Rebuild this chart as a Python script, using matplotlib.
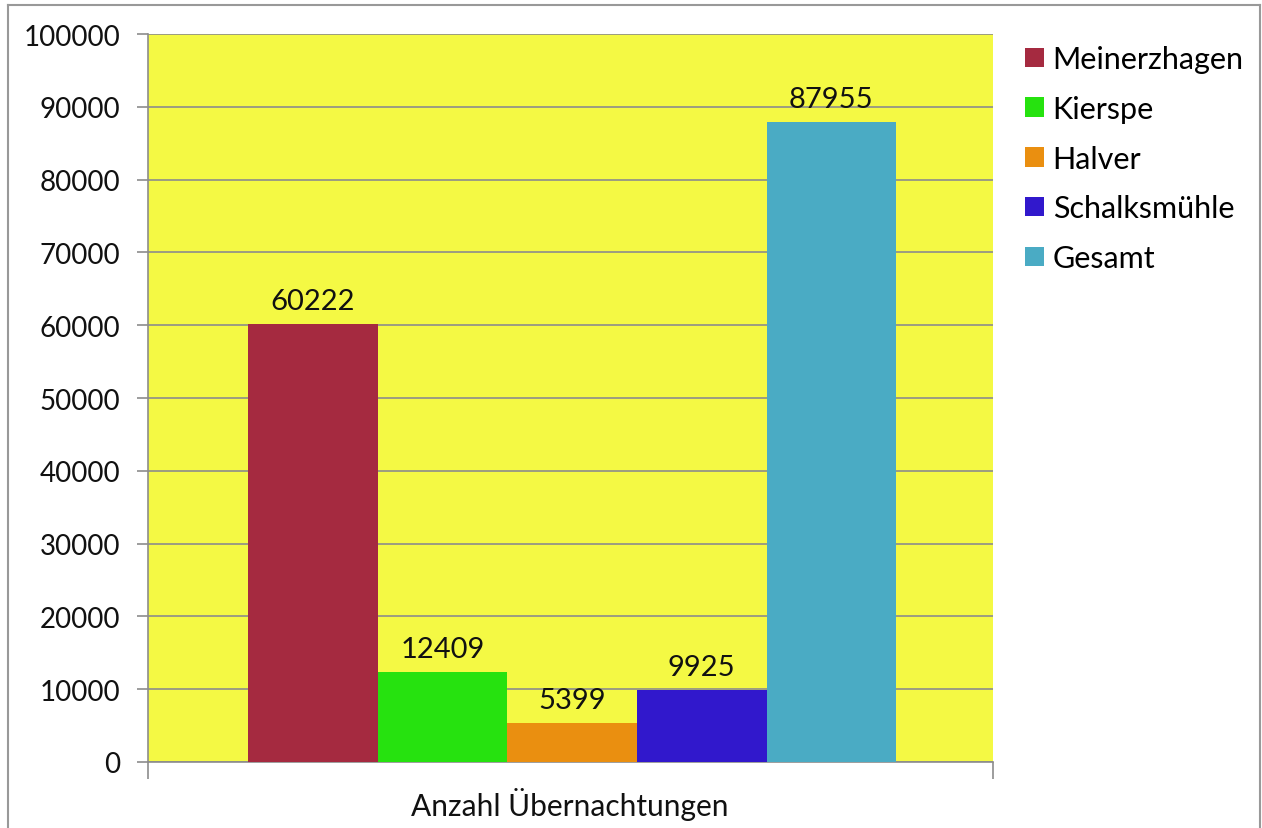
import matplotlib
matplotlib.use("Agg")
import matplotlib.pyplot as plt
from matplotlib.patches import Patch
from matplotlib.lines import Line2D

categories = ["Meinerzhagen", "Kierspe", "Halver", "Schalksmühle", "Gesamt"]
values = [60222, 12409, 5399, 9925, 87955]
colors = ["#A52A40", "#26E20F", "#EA8F10", "#3118CC", "#4AABC4"]
xlabel = "Anzahl Übernachtungen"
yticks = list(range(0, 100001, 10000))

plt.rcParams['font.family'] = ['Lato', 'DejaVu Sans']

W, H = 1262, 829
fig = plt.figure(figsize=(W/100, H/100), dpi=100)
ax = fig.add_axes([148/W, 1-763/H, (993-148)/W, (763-35)/H])
ax.set_facecolor("#F4F944")

bw = 129.6/845
n = len(values)
for i, (c, v, col) in enumerate(zip(categories, values, colors)):
    x = (i - (n-1)/2) * bw + 0.002
    ax.bar(x, v, width=bw, color=col, label=c, zorder=3, linewidth=0)
    ax.text(x, v + 1300, str(v), ha="center", va="bottom", fontsize=21, color="#111111", zorder=4)

ax.set_xlim(-0.5, 0.5)
ax.set_ylim(0, 100000)
ax.set_yticks(yticks)
ax.set_yticklabels([str(t) for t in yticks], fontsize=20, color="#111111")
ax.grid(axis="y", color="#8C8C8C", linewidth=1.2, zorder=1)
ax.tick_params(axis="y", length=8, width=1.2, color="#8C8C8C", pad=12)
ax.set_xticks([-0.5, 0.5])
ax.set_xticklabels(["", ""])
ax.tick_params(axis="x", length=12, width=1.2, color="#8C8C8C")
for s in ["top", "right"]:
    ax.spines[s].set_visible(False)
for s in ["left", "bottom"]:
    ax.spines[s].set_color("#8C8C8C")
    ax.spines[s].set_linewidth(1.2)
ax.set_axisbelow(True)

fig.text(570/W, 1-805/H, xlabel, ha="center", va="center", fontsize=21.5, color="#111111")

handles = [Patch(facecolor=col, edgecolor="none") for col in colors]
leg = fig.legend(handles, categories, loc="upper left", bbox_to_anchor=(1013/W, 1-34/H),
                 frameon=False, fontsize=22, handlelength=0.6, handleheight=0.6,
                 handletextpad=0.3, labelspacing=0.71, borderaxespad=0)

# outer border
fig.add_artist(Line2D([8/W, 8/W], [0, 1-6/H], color="#999999", linewidth=1.5))
fig.add_artist(Line2D([8/W, 1260/W], [1-6/H, 1-6/H], color="#999999", linewidth=1.5))
fig.add_artist(Line2D([1260/W, 1260/W], [0, 1-6/H], color="#999999", linewidth=1.5))

fig.savefig("out.png", dpi=100)
